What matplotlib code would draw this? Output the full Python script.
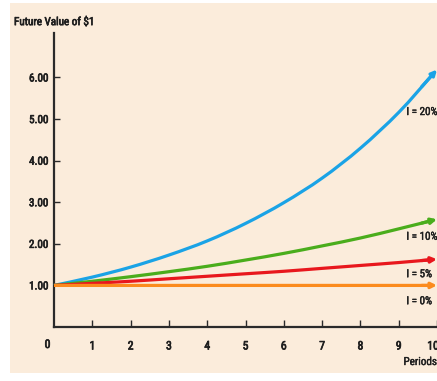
import matplotlib.pyplot as plt
from matplotlib import font_manager
from matplotlib import patheffects as pe
from matplotlib.patches import Rectangle, PathPatch
from matplotlib.path import Path
from matplotlib.transforms import ScaledTranslation

# Future value of $1 after each period, per interest rate
periods = [0, 1, 2, 3, 4, 5, 6, 7, 8, 9, 10]
fv_20 = [1.00, 1.20, 1.44, 1.73, 2.07, 2.49, 2.99, 3.58, 4.30, 5.16, 6.19]
fv_10 = [1.00, 1.10, 1.21, 1.33, 1.46, 1.61, 1.77, 1.95, 2.14, 2.36, 2.59]
fv_05 = [1.00, 1.05, 1.10, 1.16, 1.22, 1.28, 1.34, 1.41, 1.48, 1.55, 1.63]
fv_00 = [1.00, 1.00, 1.00, 1.00, 1.00, 1.00, 1.00, 1.00, 1.00, 1.00, 1.00]
rate_labels = ['I = 20%', 'I = 10%', 'I = 5%', 'I = 0%']
y_ticks = [1, 2, 3, 4, 5, 6]
x_ticks = [1, 2, 3, 4, 5, 6, 7, 8, 9, 10]

BG = '#fbecdb'
AXC = '#2a2a2a'
TXT = '#1e1e1e'

# narrow face if there is one
names = {f.name for f in font_manager.fontManager.ttflist}
pref = ['Liberation Sans Narrow', 'Roboto Condensed', 'Open Sans Condensed']
narrow = [n for n in pref if n in names]
plt.rcParams['font.family'] = narrow[:1] + ['DejaVu Sans']
plt.rcParams['font.stretch'] = 'condensed'

heavy = [pe.withStroke(linewidth=0.5, foreground=TXT)]


def smooth_path(xs, ys):
    # Catmull-Rom through the points, written as cubic Bezier segments
    verts = [(xs[0], ys[0])]
    codes = [Path.MOVETO]
    n = len(xs)
    for i in range(n - 1):
        x0, y0 = xs[max(i - 1, 0)], ys[max(i - 1, 0)]
        x1, y1 = xs[i], ys[i]
        x2, y2 = xs[i + 1], ys[i + 1]
        x3, y3 = xs[min(i + 2, n - 1)], ys[min(i + 2, n - 1)]
        verts += [(x1 + (x2 - x0) / 6, y1 + (y2 - y0) / 6),
                  (x2 - (x3 - x1) / 6, y2 - (y3 - y1) / 6),
                  (x2, y2)]
        codes += [Path.CURVE4] * 3
    return Path(verts, codes)


fig = plt.figure(figsize=(4.37, 3.81), dpi=100, facecolor='white')
fig.patches.append(Rectangle((10 / 437, 8 / 381), 1, 1 - 11 / 381, transform=fig.transFigure,
                             facecolor=BG, edgecolor='none', zorder=-10))

ax = fig.add_axes([54 / 437, 54 / 381, 383 / 437, 294 / 381])
ax.set_facecolor('none')

series = [(fv_20, '#1aa3e6'), (fv_10, '#4aad1c'), (fv_05, '#e8171d'), (fv_00, '#fb8b1e')]
for vals, c in series:
    # stop the curve a little short so the arrow head sits on the end value
    xs = periods[:-1] + [periods[-1] - 0.15]
    ys = vals[:-1] + [vals[-1] - 0.15 * (vals[-1] - vals[-2])]
    ax.add_patch(PathPatch(smooth_path(xs, ys), facecolor='none', edgecolor=c, lw=2.3,
                           capstyle='butt', clip_on=False, zorder=3))
    ax.annotate('', xy=(periods[-1], vals[-1]), xytext=(periods[-2] + 0.6, vals[-2] + 0.6 * (vals[-1] - vals[-2])),
                arrowprops=dict(arrowstyle='-|>', color=c, lw=2.3, mutation_scale=8, shrinkA=0, shrinkB=0),
                annotation_clip=False, zorder=4)

ax.set_xlim(0, 10)
ax.set_ylim(0, 7.07)
for s in ['top', 'right']:
    ax.spines[s].set_visible(False)
for s in ['left', 'bottom']:
    ax.spines[s].set_color(AXC)
    ax.spines[s].set_linewidth(1.6)

ax.set_yticks(y_ticks)
ax.set_yticklabels([f'{v:.2f}' for v in y_ticks])
ax.set_xticks(x_ticks)
ax.set_xticklabels([str(v) for v in x_ticks])
ax.tick_params(axis='y', direction='in', length=4, width=1, color=AXC, pad=4, labelsize=8, labelcolor=TXT)
ax.tick_params(axis='x', direction='in', length=5, width=1, color=AXC, pad=9, labelsize=8.5, labelcolor=TXT)
for t in ax.get_xticklabels() + ax.get_yticklabels():
    t.set_path_effects(heavy)

# nudge the last period label in from the edge
last = ax.get_xticklabels()[-1]
last.set_transform(last.get_transform() + ScaledTranslation(-4 / 100, 0, fig.dpi_scale_trans))

ax.text(-0.17, -0.42, '0', fontsize=8.5, color=TXT, ha='center', va='center', path_effects=heavy)

# rate labels at the right end of each curve
label_y = [5.17, 2.17, 1.27, 0.62]
for lab, y in zip(rate_labels, label_y):
    ax.text(9.2, y, lab, fontsize=8, color=TXT, ha='left', va='center', clip_on=False,
            path_effects=[pe.withStroke(linewidth=0.3, foreground=TXT)])

fig.text(14 / 437, 1 - 22 / 381, 'Future Value of $1', fontsize=8, color=TXT,
         ha='left', va='center', path_effects=heavy)
fig.text(437 / 437, 1 - 362 / 381, 'Periods', fontsize=8, color=TXT, ha='right', va='center',
         path_effects=[pe.withStroke(linewidth=0.3, foreground=TXT)])

fig.savefig('out.png', dpi=100, facecolor='white')
